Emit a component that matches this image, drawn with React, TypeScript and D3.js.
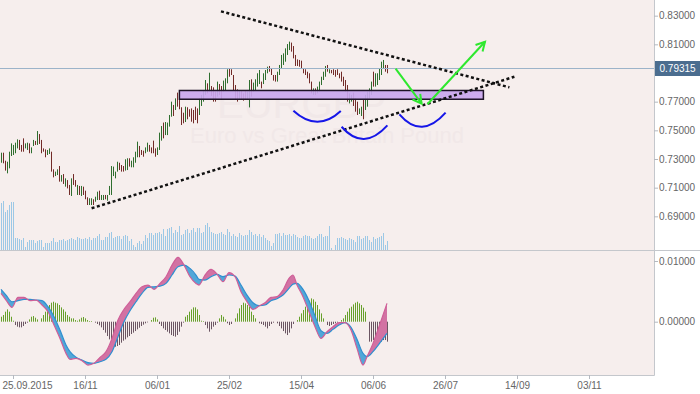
import React, { useEffect, useRef } from 'react';
import * as d3 from 'd3';

// EURGBP daily bars, mid Sep 2015 .. mid Jun 2016 (one entry per trading day)
const highs = [
  0.7344, 0.7344, 0.7288, 0.7281, 0.7351, 0.7409, 0.7398, 0.7414, 0.7437, 0.7433,
  0.7398, 0.7444, 0.7409, 0.7414, 0.7409, 0.7381, 0.7433, 0.7426, 0.7495, 0.7474,
  0.7433, 0.7374, 0.7367, 0.7363, 0.7374, 0.7351, 0.7228, 0.7212, 0.7228, 0.7251,
  0.7188, 0.7195, 0.7165, 0.7153, 0.7119, 0.7165, 0.7195, 0.7153, 0.7119, 0.7112,
  0.7112, 0.7107, 0.7079, 0.7033, 0.7026, 0.7026, 0.7019, 0.7037, 0.7072, 0.7079,
  0.7049, 0.7049, 0.7049, 0.7049, 0.7112, 0.7251, 0.7247, 0.7212, 0.7281, 0.7274,
  0.7258, 0.7251, 0.7298, 0.7305, 0.7305, 0.7288, 0.7312, 0.7351, 0.7421, 0.7391,
  0.7363, 0.7358, 0.7381, 0.7414, 0.7398, 0.7381, 0.7428, 0.7374, 0.7381, 0.7484,
  0.7530, 0.7554, 0.7558, 0.7554, 0.7607, 0.7700, 0.7677, 0.7723, 0.7763, 0.7777,
  0.7661, 0.7623, 0.7665, 0.7661, 0.7647, 0.7653, 0.7642, 0.7665, 0.7653, 0.7723,
  0.7747, 0.7777, 0.7851, 0.7828, 0.7902, 0.7809, 0.7800, 0.7770, 0.7840, 0.7823,
  0.7809, 0.7847, 0.7863, 0.7926, 0.7933, 0.7926, 0.7886, 0.7816, 0.7786, 0.7781,
  0.7777, 0.7758, 0.7781, 0.7770, 0.7851, 0.7856, 0.7833, 0.7856, 0.7898, 0.7921,
  0.7840, 0.7898, 0.7921, 0.7944, 0.7949, 0.7933, 0.7886, 0.7886, 0.7909, 0.7956,
  0.8026, 0.8037, 0.8072, 0.8102, 0.8119, 0.8112, 0.8088, 0.8026, 0.7995, 0.7991,
  0.7986, 0.7933, 0.7926, 0.7909, 0.7898, 0.7840, 0.7793, 0.7793, 0.7805, 0.7840,
  0.7874, 0.7909, 0.7949, 0.7956, 0.7926, 0.7921, 0.7926, 0.7921, 0.7926, 0.7898,
  0.7909, 0.7874, 0.7851, 0.7816, 0.7758, 0.7747, 0.7763, 0.7723, 0.7700, 0.7653,
  0.7665, 0.7712, 0.7747, 0.7770, 0.7793, 0.7840, 0.7909, 0.7898, 0.7898, 0.7933,
  0.7979, 0.7991, 0.7956, 0.7956,
];

const lows = [
  0.7274, 0.7270, 0.7219, 0.7200, 0.7235, 0.7321, 0.7328, 0.7340, 0.7374, 0.7363,
  0.7351, 0.7351, 0.7374, 0.7363, 0.7340, 0.7340, 0.7391, 0.7398, 0.7398, 0.7405,
  0.7340, 0.7351, 0.7312, 0.7328, 0.7335, 0.7212, 0.7172, 0.7181, 0.7188, 0.7142,
  0.7142, 0.7126, 0.7107, 0.7095, 0.7049, 0.7042, 0.7119, 0.7107, 0.7049, 0.7049,
  0.7042, 0.7049, 0.7019, 0.6979, 0.6979, 0.6979, 0.6979, 0.7002, 0.7014, 0.7014,
  0.7014, 0.7014, 0.7019, 0.7009, 0.7049, 0.7049, 0.7181, 0.7165, 0.7212, 0.7223,
  0.7212, 0.7212, 0.7219, 0.7223, 0.7247, 0.7242, 0.7242, 0.7274, 0.7312, 0.7312,
  0.7328, 0.7316, 0.7340, 0.7351, 0.7351, 0.7340, 0.7340, 0.7316, 0.7328, 0.7363,
  0.7428, 0.7444, 0.7467, 0.7467, 0.7526, 0.7595, 0.7600, 0.7642, 0.7665, 0.7647,
  0.7537, 0.7549, 0.7558, 0.7577, 0.7595, 0.7560, 0.7549, 0.7572, 0.7549, 0.7607,
  0.7670, 0.7700, 0.7747, 0.7758, 0.7770, 0.7740, 0.7700, 0.7700, 0.7735, 0.7747,
  0.7712, 0.7770, 0.7781, 0.7828, 0.7874, 0.7886, 0.7781, 0.7712, 0.7700, 0.7712,
  0.7712, 0.7707, 0.7712, 0.7712, 0.7660, 0.7735, 0.7770, 0.7777, 0.7805, 0.7823,
  0.7793, 0.7823, 0.7851, 0.7898, 0.7909, 0.7886, 0.7847, 0.7840, 0.7840, 0.7886,
  0.7933, 0.7956, 0.7979, 0.8026, 0.8060, 0.8049, 0.8002, 0.7949, 0.7949, 0.7944,
  0.7933, 0.7898, 0.7886, 0.7863, 0.7828, 0.7758, 0.7747, 0.7747, 0.7758, 0.7770,
  0.7816, 0.7851, 0.7874, 0.7909, 0.7898, 0.7898, 0.7886, 0.7874, 0.7886, 0.7863,
  0.7840, 0.7809, 0.7770, 0.7700, 0.7688, 0.7700, 0.7670, 0.7630, 0.7607, 0.7614,
  0.7600, 0.7577, 0.7642, 0.7665, 0.7723, 0.7747, 0.7805, 0.7805, 0.7816, 0.7851,
  0.7886, 0.7933, 0.7909, 0.7898,
];

// 1 = closed up, 0 = closed down
const ups = [
  1, 0, 0, 1, 1, 1, 1, 1, 1, 0,
  0, 0, 1, 1, 0, 1, 1, 0, 1, 0,
  0, 0, 0, 1, 1, 0, 0, 1, 1, 0,
  1, 0, 1, 0, 0, 1, 0, 0, 1, 0,
  1, 0, 0, 0, 1, 1, 0, 1, 1, 0,
  1, 1, 0, 1, 1, 1, 1, 1, 1, 0,
  0, 0, 1, 1, 0, 1, 1, 1, 1, 0,
  0, 0, 1, 1, 0, 0, 0, 0, 1, 1,
  1, 0, 1, 1, 1, 1, 0, 1, 0, 0,
  0, 0, 1, 0, 0, 0, 0, 0, 0, 1,
  1, 1, 1, 0, 1, 0, 0, 0, 1, 0,
  0, 1, 1, 1, 0, 0, 0, 0, 0, 1,
  0, 0, 0, 1, 1, 0, 1, 1, 1, 1,
  0, 1, 1, 1, 0, 0, 0, 0, 1, 1,
  1, 1, 1, 1, 1, 0, 0, 0, 0, 0,
  0, 0, 0, 0, 0, 0, 1, 0, 1, 1,
  1, 1, 1, 0, 1, 0, 0, 0, 0, 0,
  0, 0, 0, 0, 1, 1, 0, 0, 0, 1,
  1, 0, 1, 1, 1, 1, 0, 1, 1, 1,
  1, 1, 0, 0,
];

const volumes = [
  47, 49, 38, 40, 45, 48, 48,
  12, 12, 11, 10, 12, 3, 8, 10, 10, 10, 7, 9, 10, 10,
  3, 7, 7, 7, 9, 12,
  8, 8, 10, 10, 11, 9, 10, 11, 12, 11, 10, 13, 12, 11, 11, 12, 11, 13, 10, 12, 12, 14,
  16, 10, 10, 13, 13, 17, 18, 12, 13, 14, 14, 11,
  14, 15, 14, 9, 11, 5, 3, 7, 9, 6, 9, 15, 12, 17, 17,
  15, 17, 17, 18, 16, 21, 14, 21, 22, 23, 17, 20, 18, 24, 15,
  16, 20, 21, 17, 20, 22, 18, 22, 22, 17, 18, 25, 27, 23, 18,
  17, 16, 16, 17, 18, 16, 15, 21, 18, 14, 16, 14, 13, 17, 15,
  14, 15, 15, 20, 18, 15, 16, 14, 16, 13, 15, 12, 10, 9, 4,
  7, 16, 16, 17, 14, 17, 15, 15, 16, 14, 16, 15, 13, 12, 12,
  14, 15, 14, 14, 12, 11, 12, 14, 16, 16, 13, 14, 14, 24, 2,
  0, 5, 12, 12, 13, 12, 11, 10, 12, 11, 10, 8, 14, 14, 11,
  12, 14, 14, 10, 8, 13, 11, 12, 13, 14, 17, 5, 9,
];

const histogram = [
  0.00082, 0.00110, 0.00165, 0.00203, 0.00165, 0.00082, 0.00016, -0.00055, -0.00082, -0.00093,
  -0.00093, -0.00071, -0.00038, -0.00016, 0.00038, 0.00082, 0.00093, 0.00066, 0.00038, 0,
  0.00055, 0.00110, 0.00165, 0.00220, 0.00275, 0.00313, 0.00329, 0.00313, 0.00302, 0.00275,
  0.00236, 0.00203, 0.00165, 0.00110, 0.00082, 0.00055, 0.00055, 0.00027, 0.00016, 0.00038,
  0.00066, 0.00077, 0.00055, 0.00027, 0.00011, 0.00011, 0, -0.00016, -0.00038, -0.00060,
  -0.00093, -0.00137, -0.00181, -0.00236, -0.00291, -0.00346, -0.00384, -0.00412, -0.00401, -0.00384,
  -0.00346, -0.00313, -0.00291, -0.00258, -0.00236, -0.00203, -0.00181, -0.00154, -0.00126, -0.00099,
  -0.00071, -0.00049, -0.00027, -0.00011, 0, 0.00027, 0.00066, 0.00071, 0.00038, -0.00038,
  -0.00071, -0.00110, -0.00137, -0.00165, -0.00192, -0.00220, -0.00236, -0.00247, -0.00220, -0.00165,
  -0.00082, -0.00016, 0.00082, 0.00110, 0.00165, 0.00203, 0.00236, 0.00236, 0.00203, 0.00110,
  0.00016, 0.00011, -0.00055, -0.00110, -0.00165, -0.00126, -0.00082, -0.00055, -0.00016, 0.00055,
  0.00110, 0.00082, 0.00038, -0.00027, -0.00055, -0.00038, 0, 0.00055, 0.00137, 0.00220,
  0.00275, 0.00313, 0.00302, 0.00275, 0.00247, 0.00165, 0.00110, 0.00055, 0, -0.00027,
  -0.00038, -0.00055, -0.00082, -0.00110, -0.00071, -0.00038, -0.00016, 0, -0.00027, -0.00071,
  -0.00110, -0.00154, -0.00192, -0.00220, -0.00181, -0.00110, -0.00038, 0, 0.00027, 0.00082,
  0.00137, 0.00192, 0.00247, 0.00302, 0.00346, 0.00384, 0.00368, 0.00329, 0.00275, 0.00203,
  0.00137, 0.00055, 0, -0.00055, -0.00071, -0.00055, -0.00038, -0.00027, -0.00016, 0,
  0.00027, 0.00055, 0.00110, 0.00165, 0.00220, 0.00247, 0.00285, 0.00313, 0.00329, 0.00302,
  0.00275, 0.00231, 0.00165, 0, -0.00329, -0.00329, -0.00302, -0.00329, -0.00313, -0.00329,
  -0.00329, -0.00302, -0.00302, -0.00329,
];

// MACD ribbon, read at these bar positions
const macdIdx = [
  0, 2.5, 5.5, 8.5, 11.5, 14.5, 17.5, 20.5, 23.5, 26.5,
  29.5, 32.5, 34.5, 37.5, 40.5, 43.5, 46.5, 49.5, 52.5, 55.5,
  58.5, 61.5, 64.5, 67.5, 70.5, 73.5, 76.5, 79.5, 82.5, 85.5,
  88.5, 91.5, 94.5, 97.5, 99, 102, 105, 108, 111, 114,
  117, 120, 123, 126, 129, 132, 135, 138, 141, 144,
  146, 148, 151, 154, 157, 160, 163, 166, 169, 172,
  175, 178, 181, 183, 186, 189, 193,
];
const macdFast = [
  0.00467, 0.00357, 0.00236, 0.00401, 0.00401, 0.00346, 0.00357, 0.00275, 0.00165, -0.00055,
  -0.00275, -0.00522, -0.00620, -0.00604, -0.00642, -0.00714, -0.00686, -0.00587, -0.00494, -0.00275,
  0.00027, 0.00203, 0.00329, 0.00467, 0.00576, 0.00604, 0.00533, 0.00631, 0.00741, 0.00933,
  0.01060, 0.00933, 0.00741, 0.00631, 0.00604, 0.00769, 0.00862, 0.00785, 0.00659, 0.00807,
  0.00741, 0.00494, 0.00329, 0.00203, 0.00258, 0.00313, 0.00401, 0.00412, 0.00522, 0.00714,
  0.00769, 0.00604, 0.00412, 0.00165, -0.00082, -0.00275, -0.00165, -0.00082, -0.00016, -0.00016,
  -0.00137, -0.00439, -0.00714, -0.00576, -0.00357, -0.00082, 0.00302,
];
const macdSlow = [
  0.00533, 0.00439, 0.00329, 0.00346, 0.00368, 0.00368, 0.00357, 0.00346, 0.00247, 0.00082,
  -0.00137, -0.00384, -0.00494, -0.00587, -0.00631, -0.00675, -0.00686, -0.00659, -0.00620, -0.00494,
  -0.00247, 0, 0.00181, 0.00329, 0.00467, 0.00565, 0.00576, 0.00587, 0.00631, 0.00769,
  0.00906, 0.00933, 0.00878, 0.00769, 0.00697, 0.00686, 0.00741, 0.00780, 0.00741, 0.00769,
  0.00752, 0.00604, 0.00439, 0.00313, 0.00264, 0.00275, 0.00346, 0.00379, 0.00439, 0.00549,
  0.00620, 0.00631, 0.00533, 0.00346, 0.00093, -0.00148, -0.00192, -0.00126, -0.00055, -0.00016,
  -0.00093, -0.00291, -0.00522, -0.00576, -0.00494, -0.00368, -0.00192,
];

const priceTicks = [0.69, 0.71, 0.73, 0.75, 0.77, 0.79, 0.81, 0.83];
const macdTicks = [0, 0.01];
const dateLabels = ['25.09.2015', '16/11', '06/01', '25/02', '15/04', '06/06', '26/07', '14/09', '03/11'];
const dateIdx = [6, 42, 78, 114, 150, 186, 222, 258, 294];
const lastPrice = 0.79315;

// drawings on the chart, in [bar index, price]
const zone = { from: 89.2, to: 241.2, top: 0.7778, bottom: 0.7717 };
const trendLines = [
  [[110, 0.833], [254.2, 0.78]],
  [[45.3, 0.6956], [256.7, 0.7874]],
];
const arcs = [
  [[146.2, 0.7637], [158.2, 0.756], [169.9, 0.7635]],
  [[170.3, 0.7525], [181.2, 0.744], [193.2, 0.7535]],
  [[199.2, 0.7612], [210.3, 0.7525], [222.3, 0.7623]],
];
const arrows = [
  [[197.3, 0.793], [210.3, 0.7686]],
  [[213.2, 0.7682], [242, 0.8118]],
];

const FONT = "'Liberation Sans', Arial, sans-serif";

export default function App() {
  const ref = useRef<SVGSVGElement>(null);

  useEffect(() => {
    const svg = d3.select(ref.current);
    svg.selectAll('*').remove();

    const plotR = 654.5;
    const sepY = 250.5;
    const bottomY = 375.5;

    const x = d3.scaleLinear().domain([0, 193]).range([1, 387]);
    const y = d3.scaleLinear().domain([0.69, 0.83]).range([216.33, 15.67]);
    const yVol = d3.scaleLinear().domain([0, 50]).range([250, 200]);
    const yM = d3.scaleLinear().domain([0, 0.01]).range([321.7, 261]);

    svg.append('rect').attr('width', 700).attr('height', 394).attr('fill', '#ffffff');
    svg.append('rect').attr('width', plotR).attr('height', bottomY).attr('fill', '#f6eeed');

    const defs = svg.append('defs');
    defs.append('clipPath').attr('id', 'macd-clip')
      .append('rect').attr('x', 0).attr('y', 251).attr('width', plotR).attr('height', 124);

    // watermark
    svg.append('text').attr('x', 217).attr('y', 118).text('EURGBP')
      .attr('font-family', FONT).attr('font-size', 40).attr('fill', '#f1e8e8');
    svg.append('text').attr('x', 327).attr('y', 143).attr('text-anchor', 'middle')
      .text('Euro vs Great Britain Pound')
      .attr('font-family', FONT).attr('font-size', 22).attr('fill', '#f1e8e8');

    // volume
    svg.append('g').selectAll('line').data(volumes).join('line')
      .attr('x1', (d, i) => x(i) + 0.5).attr('x2', (d, i) => x(i) + 0.5)
      .attr('y1', yVol(0)).attr('y2', d => yVol(d))
      .attr('stroke', '#9cc8e6').attr('stroke-width', 1);

    // price bars
    svg.append('g').selectAll('line').data(highs).join('line')
      .attr('x1', (d, i) => x(i) + 0.5).attr('x2', (d, i) => x(i) + 0.5)
      .attr('y1', d => y(d)).attr('y2', (d, i) => y(lows[i]))
      .attr('stroke', (d, i) => (ups[i] ? '#2f6e2f' : '#722b28')).attr('stroke-width', 1);

    // last price line
    svg.append('line').attr('x1', 0).attr('x2', plotR)
      .attr('y1', Math.round(y(lastPrice)) + 0.5).attr('y2', Math.round(y(lastPrice)) + 0.5)
      .attr('stroke', '#9cb3c9').attr('stroke-width', 1);

    // support zone
    svg.append('rect')
      .attr('x', x(zone.from)).attr('y', y(zone.top))
      .attr('width', x(zone.to) - x(zone.from)).attr('height', y(zone.bottom) - y(zone.top))
      .attr('fill', '#c9a6ee').attr('fill-opacity', 0.92)
      .attr('stroke', '#1d1226').attr('stroke-width', 1.5);

    // trend lines
    trendLines.forEach(l => {
      svg.append('line')
        .attr('x1', x(l[0][0])).attr('y1', y(l[0][1]))
        .attr('x2', x(l[1][0])).attr('y2', y(l[1][1]))
        .attr('stroke', '#111').attr('stroke-width', 2.5).attr('stroke-dasharray', '3 2.5');
    });

    // arcs
    arcs.forEach(a => {
      const [p0, p1, p2] = a.map(p => [x(p[0]), y(p[1])]);
      const path = d3.path();
      path.moveTo(p0[0], p0[1]);
      path.quadraticCurveTo(p1[0], 2 * p1[1] - (p0[1] + p2[1]) / 2, p2[0], p2[1]);
      svg.append('path').attr('d', path.toString())
        .attr('fill', 'none').attr('stroke', '#1616e8').attr('stroke-width', 2);
    });

    // arrows
    arrows.forEach(a => {
      const [x1, y1] = [x(a[0][0]), y(a[0][1])];
      const [x2, y2] = [x(a[1][0]), y(a[1][1])];
      const ang = Math.atan2(y2 - y1, x2 - x1);
      const len = 10;
      const h1 = [x2 + len * Math.cos(ang + Math.PI - 0.5), y2 + len * Math.sin(ang + Math.PI - 0.5)];
      const h2 = [x2 + len * Math.cos(ang + Math.PI + 0.5), y2 + len * Math.sin(ang + Math.PI + 0.5)];
      svg.append('line').attr('x1', x1).attr('y1', y1).attr('x2', x2).attr('y2', y2)
        .attr('stroke', '#2ee82e').attr('stroke-width', 2);
      svg.append('path').attr('d', `M${h1[0]},${h1[1]}L${x2},${y2}L${h2[0]},${h2[1]}`)
        .attr('fill', 'none').attr('stroke', '#2ee82e').attr('stroke-width', 2);
    });

    // MACD panel
    const mg = svg.append('g').attr('clip-path', 'url(#macd-clip)');

    mg.append('g').selectAll('line').data(histogram).join('line')
      .attr('x1', (d, i) => x(i) + 0.5).attr('x2', (d, i) => x(i) + 0.5)
      .attr('y1', yM(0)).attr('y2', d => yM(d))
      .attr('stroke', d => (d >= 0 ? '#67a12b' : '#6b5663')).attr('stroke-width', 1);

    const pts = macdIdx.map((d, i) => ({ i: d, f: macdFast[i], s: macdSlow[i] }));
    const curve = d3.curveMonotoneX;

    defs.append('clipPath').attr('id', 'above-slow').append('path')
      .attr('d', d3.area<any>().x(d => x(d.i)).y0(251).y1(d => yM(d.s)).curve(curve)(pts));
    defs.append('clipPath').attr('id', 'below-slow').append('path')
      .attr('d', d3.area<any>().x(d => x(d.i)).y0(375).y1(d => yM(d.s)).curve(curve)(pts));

    const band = d3.area<any>().x(d => x(d.i)).y0(d => yM(d.s)).y1(d => yM(d.f)).curve(curve);
    mg.append('path').attr('d', band(pts)).attr('fill', '#d272a3').attr('clip-path', 'url(#above-slow)');
    mg.append('path').attr('d', band(pts)).attr('fill', '#52a7d8').attr('clip-path', 'url(#below-slow)');

    mg.append('path')
      .attr('d', d3.line<any>().x(d => x(d.i)).y(d => yM(d.s)).curve(curve)(pts))
      .attr('fill', 'none').attr('stroke', '#2f8fd0').attr('stroke-width', 1.2);
    mg.append('path')
      .attr('d', d3.line<any>().x(d => x(d.i)).y(d => yM(d.f)).curve(curve)(pts))
      .attr('fill', 'none').attr('stroke', '#cf5f98').attr('stroke-width', 1.2);

    // frame
    const frame = '#c4c7cc';
    svg.append('line').attr('x1', plotR).attr('x2', plotR).attr('y1', 0).attr('y2', bottomY).attr('stroke', frame);
    svg.append('line').attr('x1', 0).attr('x2', 700).attr('y1', sepY).attr('y2', sepY).attr('stroke', frame);
    svg.append('line').attr('x1', 0).attr('x2', plotR).attr('y1', bottomY).attr('y2', bottomY).attr('stroke', frame);

    const styleAxis = (g: any) => {
      g.select('.domain').remove();
      g.attr('font-family', FONT).attr('font-size', 10);
      g.selectAll('line').attr('stroke', '#b5b9c0');
      g.selectAll('text').attr('fill', '#666');
    };

    const lastY = y(lastPrice);
    svg.append('g').attr('transform', `translate(${plotR - 0.5},0)`)
      .call(d3.axisRight(y)
        .tickValues(priceTicks.filter(t => Math.abs(y(t) - lastY) > 8))
        .tickSize(4).tickPadding(1).tickFormat(d3.format('.5f')))
      .call(styleAxis);

    svg.append('g').attr('transform', `translate(${plotR - 0.5},0)`)
      .call(d3.axisRight(yM).tickValues(macdTicks).tickSize(4).tickPadding(1).tickFormat(d3.format('.5f')))
      .call(styleAxis);

    const xAxis = svg.append('g').attr('transform', `translate(0,${bottomY - 0.5})`)
      .call(d3.axisBottom(x).tickValues(dateIdx).tickSize(4).tickPadding(3)
        .tickFormat((d, i) => dateLabels[i]))
      .call(styleAxis);
    // first date label is pushed inside the left edge
    xAxis.selectAll('.tick text').filter((d, i) => i === 0)
      .attr('text-anchor', 'start').attr('x', 2.5 - x(dateIdx[0]) - 0.5);

    // last price label
    svg.append('rect').attr('x', 655).attr('y', Math.round(lastY) - 7).attr('width', 45).attr('height', 15)
      .attr('fill', '#4b6d8f');
    svg.append('text').attr('x', 659.5).attr('y', lastY).attr('dy', '0.35em')
      .text(d3.format('.5f')(lastPrice))
      .attr('font-family', FONT).attr('font-size', 10).attr('fill', '#ffffff');
  }, []);

  return (
    <svg ref={ref} width={700} height={394} style={{ position: 'absolute', left: 0, top: 0, display: 'block' }} />
  );
}
